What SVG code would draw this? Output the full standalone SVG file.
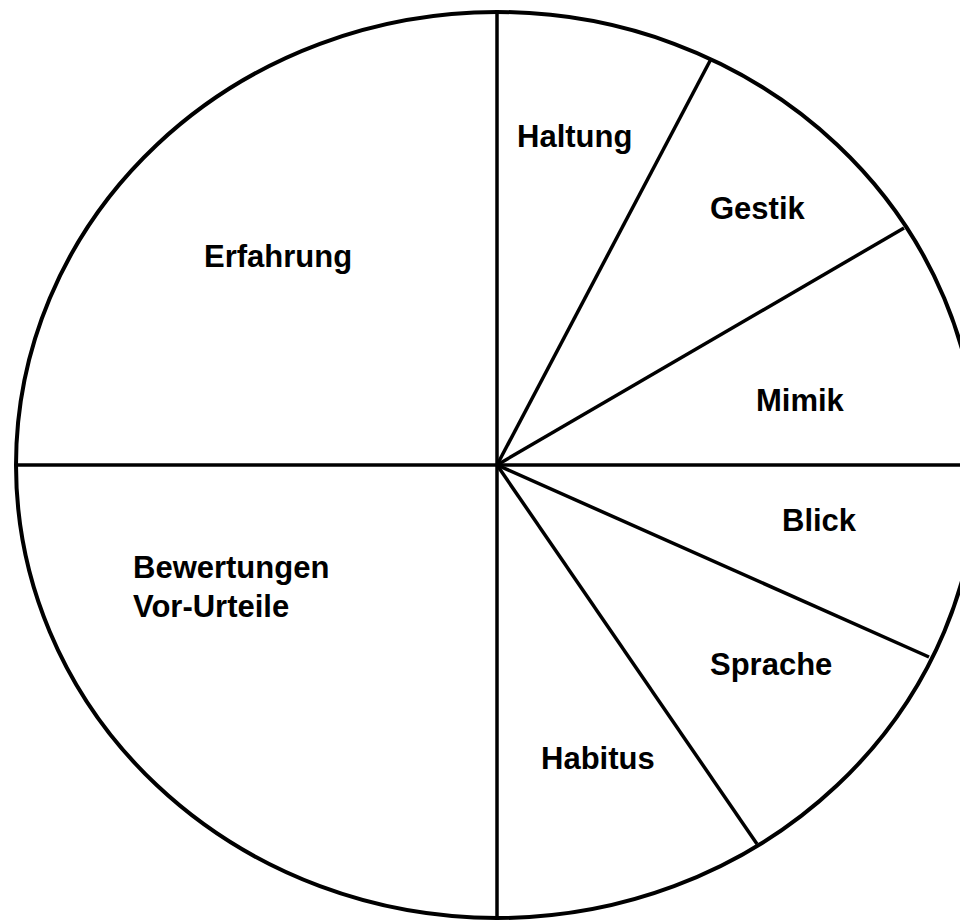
<svg xmlns="http://www.w3.org/2000/svg" width="960" height="920" viewBox="0 0 960 920">
<style>
.t{font-family:"Liberation Sans",Arial,sans-serif;font-weight:bold;font-size:31px;fill:#000}
.l{stroke:#000;stroke-width:3.5;fill:none}
</style>
<rect width="960" height="920" fill="#fff"/>
<g id="circle"><ellipse cx="497" cy="465" rx="481" ry="453" fill="none" stroke="#000" stroke-width="4"/></g>
<g id="connectors" class="l">
<line x1="497" y1="11" x2="497" y2="918"/>
<line x1="16" y1="465" x2="960" y2="465"/>
<line x1="497" y1="465" x2="711" y2="59"/>
<line x1="497" y1="465" x2="904" y2="228"/>
<line x1="497" y1="465" x2="929" y2="657"/>
<line x1="497" y1="465" x2="757" y2="844"/>
</g>
<g id="haltung"><text class="t" x="517" y="147">Haltung</text></g>
<g id="gestik"><text class="t" x="710" y="219">Gestik</text></g>
<g id="mimik"><text class="t" x="756" y="411">Mimik</text></g>
<g id="blick"><text class="t" x="782" y="531">Blick</text></g>
<g id="sprache"><text class="t" x="710" y="675">Sprache</text></g>
<g id="habitus"><text class="t" x="541" y="769">Habitus</text></g>
<g id="erfahrung"><text class="t" x="204" y="267">Erfahrung</text></g>
<g id="bewertungen"><text class="t" x="133" y="578">Bewertungen</text><text class="t" x="133" y="617">Vor-Urteile</text></g>
</svg>
